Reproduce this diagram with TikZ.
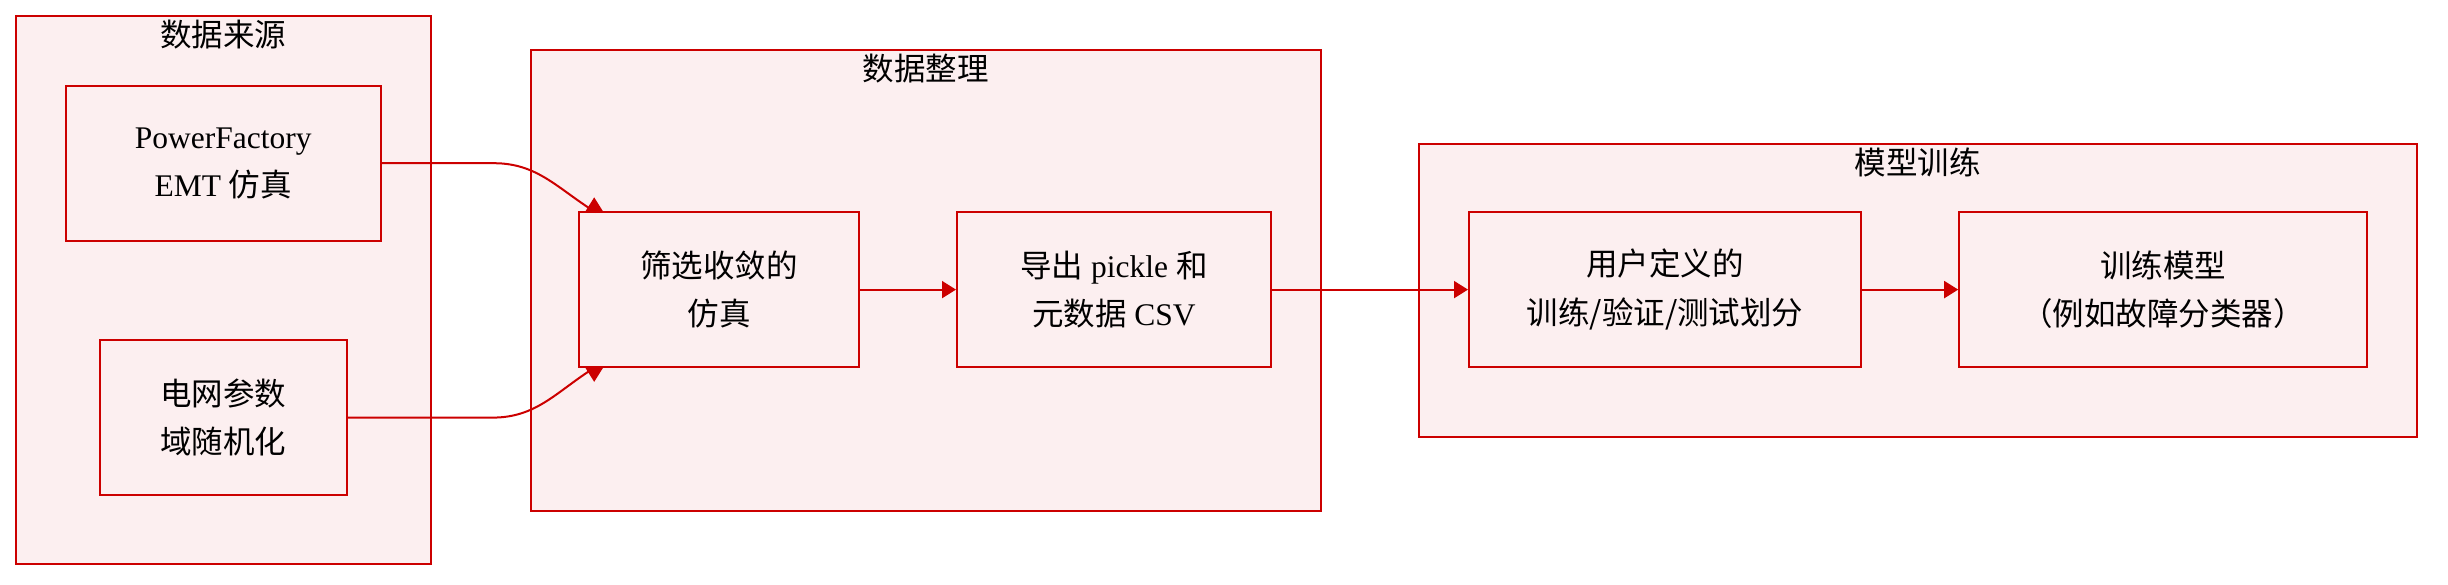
\documentclass[tikz,border=0pt]{standalone}
\usepackage{fontspec}
\setmainfont{Liberation Serif}
\newfontfamily\cjk{Noto Sans CJK SC}
\usetikzlibrary{arrows.meta}
\definecolor{boxred}{RGB}{204,0,0}
\definecolor{boxfill}{RGB}{252,239,240}
\tikzset{
	group/.style={draw=boxred,fill=boxfill,line width=1pt,inner sep=0pt},
	grouptitle/.style={inner sep=0pt,font=\fontsize{15.75}{24.2}\selectfont\cjk},
	process/.style={draw=boxred,fill=boxfill,line width=1pt,align=center,minimum height=77.3pt,font=\fontsize{15.75}{24.2}\selectfont},
	flow/.style={draw=boxred,line width=1pt,-{Triangle[length=7pt,width=8.5pt]}},
}
\begin{document}
\begin{tikzpicture}[x=0.5pt,y=-0.5pt]
	\useasboundingbox (0,0) rectangle (2448,584);
	\foreach \n/\x/\y/\w/\h/\t in {src/223.2/289.6/207.7pt/274pt/数据来源, prep/925.8/280.2/395pt/230.3pt/数据整理, train/1917.8/290.4/498.9pt/146.8pt/模型训练}{
		\node[group,minimum width=\w,minimum height=\h] (\n) at (\x,\y) {};
		\node[grouptitle] (\n-title) at ([yshift=-10pt]\n.north) {\t};
	}
	\node[process,minimum width=157.6pt] (pf) at (223.2,163.2) {PowerFactory\\EMT {\cjk 仿真}};
	\node[process,minimum width=123.4pt] (grid) at (223.2,417.6) {{\cjk 电网参数}\\{\cjk 域随机化}};
	\node[process,minimum width=139.8pt] (filter) at (719,289.6) {{\cjk 筛选收敛的}\\{\cjk 仿真}};
	\node[process,minimum width=156.9pt] (export) at (1113.9,289.6) {{\cjk 导出} pickle {\cjk 和}\\{\cjk 元数据} CSV};
	\node[process,minimum width=196pt] (split) at (1665,289.6) {{\cjk 用户定义的}\\{\cjk 训练/验证/测试划分}};
	\node[process,minimum width=203.8pt] (model) at (2163,289.6) {{\cjk 训练模型}\\{\cjk （例如故障分类器）}};
	% the two sources meet at the filter box
	\draw[flow] (pf.east) -- ++(112,0) to[out=0,in=148] ([xshift=8pt]filter.north west) -- ++(0,-14);
	\draw[flow] (grid.east) -- ++(145,0) to[out=0,in=212] ([xshift=8pt]filter.south west) -- ++(0,14);
	\draw[flow] (filter.east) -- (export.west);
	\draw[flow] (export.east) -- (split.west);
	\draw[flow] (split.east) -- (model.west);
\end{tikzpicture}
\end{document}
